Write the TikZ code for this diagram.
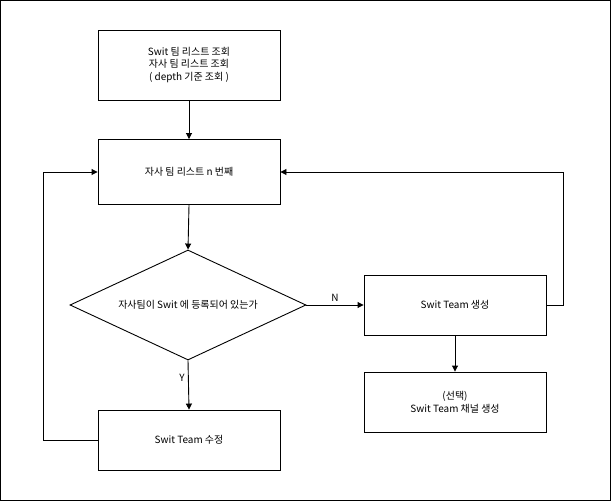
\documentclass[tikz,border=0pt]{standalone}
\usepackage{fontspec}
\newfontfamily\cjk{Noto Sans CJK KR}
\usetikzlibrary{shapes.geometric,arrows.meta}
\begin{document}
\begin{tikzpicture}[x=1bp, y=-1bp, >={Triangle[length=6bp,width=6bp]}, line width=0.9bp]
\useasboundingbox (0,0) rectangle (611,501);
\draw (0.5,0.5) rectangle (610.5,500.5);
   \begin{scope}[every node/.style={draw,minimum width=182bp,minimum height=60bp,align=center,font=\cjk\fontsize{10}{13}\selectfont}]
\node (list) [minimum height=70bp] at (189,65) {Swit 팀 리스트 조회\\자사 팀 리스트 조회\\( depth 기준 조회 )};
\node (nth) [minimum height=65bp] at (189,172) {자사 팀 리스트 n 번째};
\node (check) [diamond,minimum width=236bp,minimum height=110bp,aspect=2.15,inner sep=0pt] at (188,305) {자사팀이 Swit 에 등록되어 있는가};
\node (make) at (455,305) {Swit Team 생성};
\node (chan) at (455,402) {(선택)\\Swit Team 채널 생성};
\node (edit) at (189,440) {Swit Team 수정};
   \end{scope}

\draw [->] (list) -- (nth);
\draw [->] (nth.south) -- (check.north);
\draw [->] (check.east) -- node[above,font=\cjk\fontsize{10}{13}\selectfont]{N} (make.west);
\draw [->] (check.south) -- node[left,pos=0.35,font=\cjk\fontsize{10}{13}\selectfont]{Y} (edit.north);
\draw [->] (make) -- (chan);
\draw [->] (make.east) -- (563,305) |- (nth.east);
\draw [->] (edit.west) -- (43,440) |- (nth.west);
\end{tikzpicture}
\end{document}
